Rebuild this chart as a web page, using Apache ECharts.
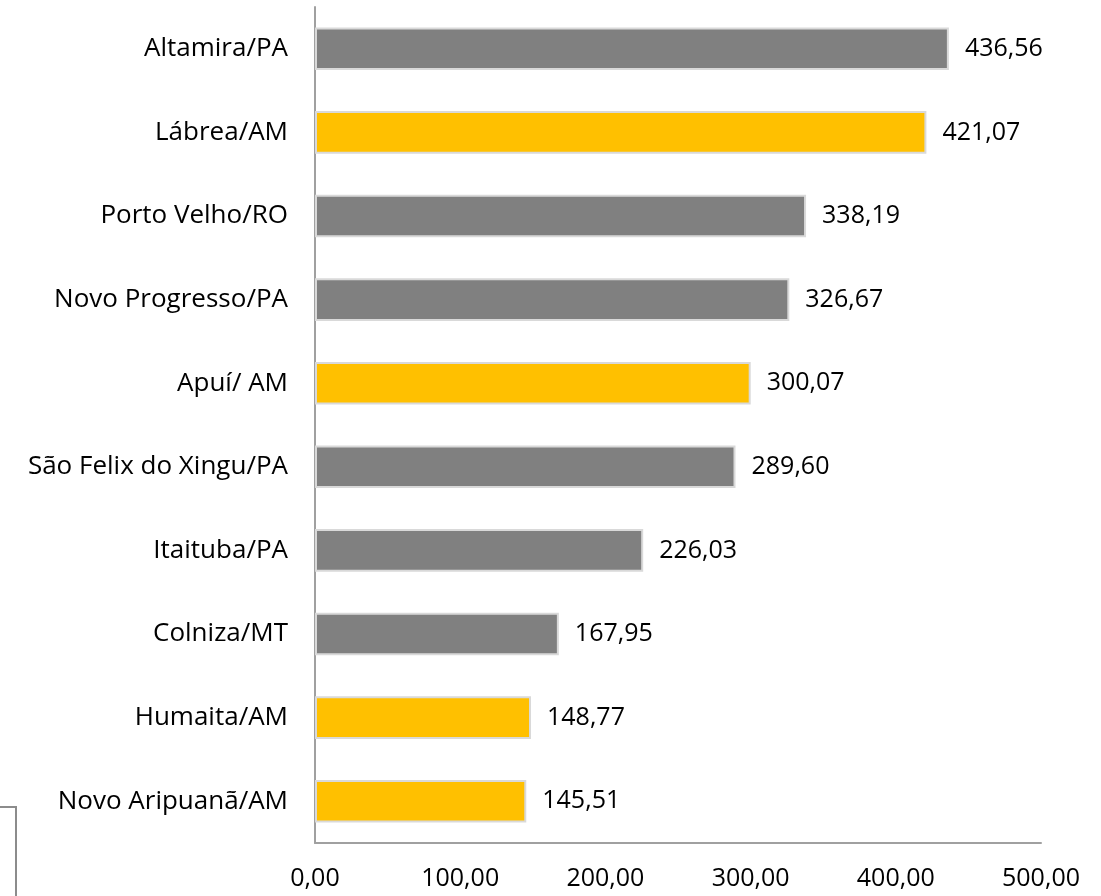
<!DOCTYPE html>
<html>
<head>
<meta charset="utf-8">
<script src="https://cdn.jsdelivr.net/npm/echarts@6/dist/echarts.min.js"></script>
<style>
html, body { margin: 0; padding: 0; background: #fff; }
#chart { width: 1101px; height: 896px; }
</style>
</head>
<body>
<div id="chart"></div>
<script>
// municipios (de cima para baixo)
var cidades = ['Altamira/PA', 'Lábrea/AM', 'Porto Velho/RO', 'Novo Progresso/PA', 'Apuí/ AM',
    'São Felix do Xingu/PA', 'Itaituba/PA', 'Colniza/MT', 'Humaita/AM', 'Novo Aripuanã/AM'];
var valores = [436.56, 421.07, 338.19, 326.67, 300.07, 289.60, 226.03, 167.95, 148.77, 145.51];
var amazonas = [false, true, false, false, true, false, false, false, true, true];
var ticksX = [0, 100, 200, 300, 400, 500];

function fmt(v) {
    return v.toFixed(2).replace('.', ',');
}

var myChart = echarts.init(document.getElementById('chart'));
var fonte = 'Open Sans, Noto Sans, sans-serif';
var dados = valores.map(function (v, i) {
    return {
        value: v,
        itemStyle: { color: amazonas[i] ? '#FFC000' : '#808080' }
    };
});

var options = {
    animation: false,
    grid: { left: 315, top: 7, right: 60, bottom: 53 },
    xAxis: {
        type: 'value',
        min: ticksX[0],
        max: ticksX[ticksX.length - 1],
        interval: 100,
        splitLine: { show: false },
        axisLine: { show: true, lineStyle: { color: '#a0a0a0', width: 2 } },
        axisTick: { show: false },
        axisLabel: {
            color: '#000', fontSize: 25, fontFamily: fonte, margin: 23,
            formatter: function (v) { return fmt(v); }
        }
    },
    yAxis: {
        type: 'category',
        data: cidades,
        inverse: true,
        axisLine: { show: true, lineStyle: { color: '#a0a0a0', width: 2 } },
        axisTick: { show: false },
        axisLabel: { color: '#000', fontSize: 26, fontFamily: fonte, margin: 27 }
    },
    series: [{
        type: 'bar',
        data: dados,
        barWidth: '51%',
        itemStyle: { borderColor: '#d9d9d9', borderWidth: 2 },
        label: {
            show: true,
            position: 'right',
            distance: 16,
            color: '#000',
            fontSize: 25,
            fontFamily: fonte,
            formatter: function (p) { return fmt(p.value); }
        }
    }],
    graphic: [{
        type: 'polyline',
        shape: { points: [[0, 807], [16, 807], [16, 896]] },
        style: { stroke: '#8c8c8c', lineWidth: 2, fill: null }
    }]
};
myChart.setOption(options);
</script>
</body>
</html>
